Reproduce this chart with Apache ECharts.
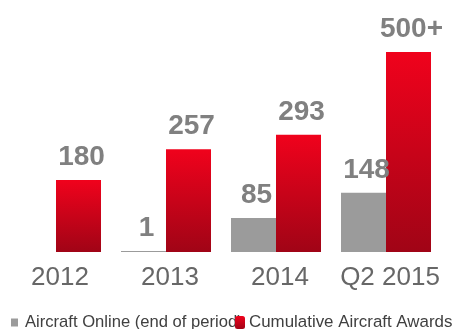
<!DOCTYPE html>
<html><head><meta charset="utf-8">
<script src="https://cdn.jsdelivr.net/npm/echarts@6/dist/echarts.min.js"></script>
<style>html,body{margin:0;padding:0;background:#fff}#c{width:458px;height:329px}</style>
</head><body><div id="c"></div>
<script>
var categories = ['2012', '2013', '2014', 'Q2 2015'];
var aircraftOnline = [null, 1, 85, 148];
var cumulativeAwards = [180, 257, 293, 500];
var awardLabels = ['180', '257', '293', '500+'];
var seriesNames = ['Aircraft Online (end of period)', 'Cumulative Aircraft Awards'];

var chart = echarts.init(document.getElementById('c'));
var labelStyle = {
  show: true, position: 'top', distance: 9, offset: [3, 0],
  fontFamily: 'Liberation Sans', fontWeight: 'bold', fontSize: 28, color: '#808080'
};
chart.setOption({
  animation: false,
  backgroundColor: '#fff',
  grid: { left: 1, right: 17, top: 52, bottom: 77 },
  xAxis: {
    type: 'category', data: categories,
    axisLine: { show: false }, axisTick: { show: false },
    axisLabel: { interval: 0, hideOverlap: false, fontFamily: 'Liberation Sans', fontSize: 26, color: '#676767', margin: 13, padding: [0, 0, 0, 8] }
  },
  yAxis: { type: 'value', min: 0, max: 500, show: false, splitLine: { show: false } },
  legend: [
    {
      data: [{ name: seriesNames[0], icon: 'rect' }], left: 6, top: 309,
      itemWidth: 7, itemHeight: 8, itemGap: 0,
      textStyle: { fontFamily: 'Liberation Sans', fontSize: 16.6, color: '#404040', padding: [0, 0, 0, 2] }
    },
    {
      data: [{ name: seriesNames[1], icon: 'roundRect' }], left: 230, top: 309,
      itemWidth: 10, itemHeight: 13, itemGap: 0,
      textStyle: { fontFamily: 'Liberation Sans', fontSize: 16.9, color: '#404040', padding: [0, 0, 0, -1] }
    }
  ],
  series: [
    {
      name: seriesNames[0], type: 'bar', data: aircraftOnline,
      barWidth: 45, barGap: '0%', barMinHeight: 1,
      itemStyle: { color: '#9b9b9b' },
      label: labelStyle
    },
    {
      name: seriesNames[1], type: 'bar', data: cumulativeAwards,
      barWidth: 45, barGap: '0%',
      itemStyle: {
        color: new echarts.graphic.LinearGradient(0, 0, 0, 1, [
          { offset: 0, color: '#f0021c' },
          { offset: 1, color: '#a00416' }
        ])
      },
      label: Object.assign({}, labelStyle, {
        formatter: function (p) { return awardLabels[p.dataIndex]; }
      })
    }
  ]
});
</script></body></html>
